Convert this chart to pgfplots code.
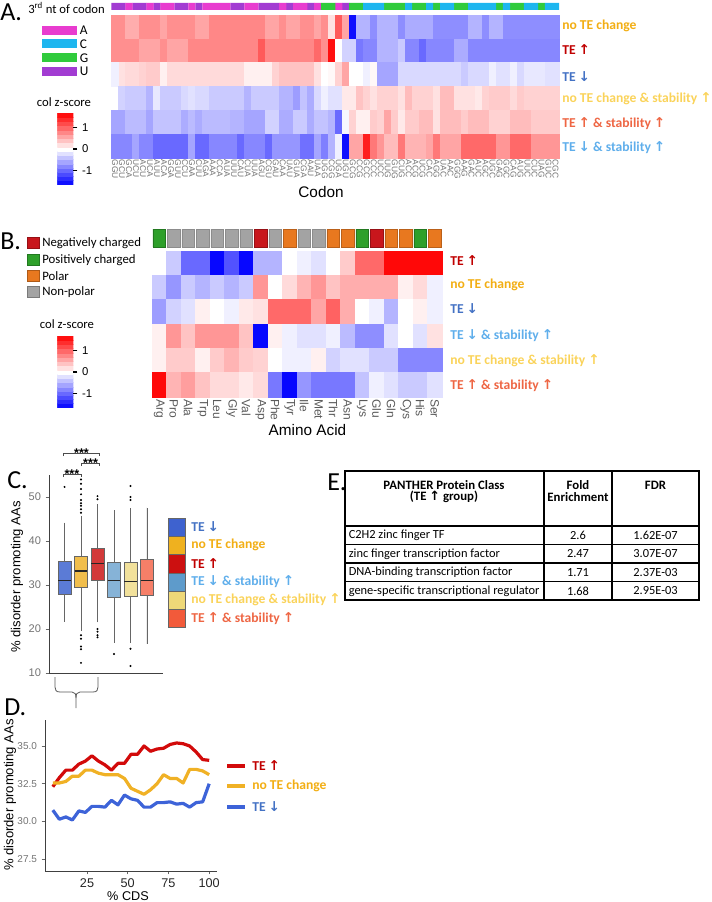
\documentclass[border=0pt]{standalone}
\usepackage{fontspec}
\setmainfont{Carlito}
\newfontfamily\arialfont{Liberation Sans}
\newfontfamily\arrowfont{DejaVu Sans}
\usepackage{pgfplots}
\pgfplotsset{compat=1.18}
\usepgfplotslibrary{statistics}
\newcommand{\fs}[1]{\fontsize{#1}{#1}\selectfont}
\newcommand{\up}{{\arrowfont ↑}}
\newcommand{\dn}{{\arrowfont ↓}}
\definecolor{ntA}{HTML}{E83CCF}
\definecolor{ntC}{HTML}{1EB6EF}
\definecolor{ntG}{HTML}{30CB3C}
\definecolor{ntU}{HTML}{A23CD2}
\definecolor{aaNeg}{HTML}{C8161C}
\definecolor{aaPos}{HTML}{2EA02A}
\definecolor{aaPol}{HTML}{E8781F}
\definecolor{aaNon}{HTML}{A3A3A3}
\definecolor{cUp}{HTML}{C00000}
\definecolor{cNo}{HTML}{F2AE14}
\definecolor{cDown}{HTML}{4472C4}
\definecolor{cDownS}{HTML}{5FAEEB}
\definecolor{cNoS}{HTML}{FAD35A}
\definecolor{cUpS}{HTML}{EE6644}
\definecolor{sw1}{HTML}{3E62CF}\definecolor{bx1}{HTML}{5B7BD6}
\definecolor{sw2}{HTML}{EFB11F}\definecolor{bx2}{HTML}{F1BE4C}
\definecolor{sw3}{HTML}{CC1010}\definecolor{bx3}{HTML}{D23A3A}
\definecolor{sw4}{HTML}{5E9BCB}\definecolor{bx4}{HTML}{86B3D7}
\definecolor{sw5}{HTML}{EED878}\definecolor{bx5}{HTML}{F2E19B}
\definecolor{sw6}{HTML}{F25A3A}\definecolor{bx6}{HTML}{F67F68}
\definecolor{lnUp}{HTML}{D20A0A}
\definecolor{lnNo}{HTML}{F0B125}
\definecolor{lnDn}{HTML}{3D63D8}
\pgfplotsset{
  hm/.style={scale only axis, y dir=reverse, axis line style={draw=none}, ytick=\empty,
    major tick length=0pt, clip=false,
    colormap={bwr}{rgb255=(0,0,255) rgb255=(255,255,255) rgb255=(255,0,0)},
    point meta min=-1.7, point meta max=1.7,
    colorbar, colorbar sampled},
  cb/.style={anchor=north west, width=12pt, height=54pt, scale only axis, samples=18,
    ytick={-1,0,1}, yticklabels={-1,0,1}, yticklabel pos=right, ytick pos=right,
    yticklabel style={font=\arialfont\fs{8.5}, text=black},
    tick align=outside, major tick length=3pt, tick style={black, line width=0.8pt},
    axis line style={draw=none}, xtick=\empty},
  strip/.style={scale only axis, hide axis, ymin=0, ymax=1, clip=false},
}
\begin{document}
\begin{tikzpicture}
\begin{scope}[x=0.75pt,y=-0.75pt]
\useasboundingbox (0,0) rectangle (709,902);
\end{scope}

% ---------- Panel A strip ----------
\begin{axis}[strip, at={(83.625pt,-2.25pt)}, anchor=north west, width=335.6pt, height=5.25pt, xmin=-0.5, xmax=63.5]
\addplot[ybar, bar width=1.02, bar shift=0pt, fill=ntU, draw=none] coordinates {(0,1) (1,1) (3,1) (4,1) (6,1) (9,1) (10,1) (12,1) (17,1) (18,1) (21,1) (22,1) (23,1) (25,1) (28,1) (33,1)};
\addplot[ybar, bar width=1.02, bar shift=0pt, fill=ntA, draw=none] coordinates {(2,1) (5,1) (7,1) (8,1) (11,1) (13,1) (14,1) (15,1) (16,1) (19,1) (20,1) (24,1) (26,1) (27,1) (29,1) (32,1)};
\addplot[ybar, bar width=1.02, bar shift=0pt, fill=ntG, draw=none] coordinates {(30,1) (31,1) (34,1) (35,1) (39,1) (40,1) (41,1) (43,1) (44,1) (46,1) (49,1) (50,1) (55,1) (57,1) (58,1) (61,1)};
\addplot[ybar, bar width=1.02, bar shift=0pt, fill=ntC, draw=none] coordinates {(36,1) (37,1) (38,1) (42,1) (45,1) (47,1) (48,1) (51,1) (52,1) (53,1) (54,1) (56,1) (59,1) (60,1) (62,1) (63,1)};
\end{axis}

% ---------- Panel A heatmap ----------
\begin{axis}[hm, at={(83.625pt,-11.25pt)}, anchor=north west, width=335.6pt, height=107.25pt,
  xmin=-0.5, xmax=63.5, ymin=-0.5, ymax=5.5,
  xtick={0,...,63},
  xticklabels={GGU,GCU,GCA,UCU,ACU,UCA,AUU,ACA,GGA,GUU,CCU,GAA,CUU,AGA,AAA,CCA,AUA,UUU,CAU,CUA,UUA,AGU,CGU,GAU,CAA,UAU,GUA,CGA,AAU,UAA,UGG,CGG,UGA,UGU,GCG,CCG,GCC,CCC,UCC,UUG,GUG,CUG,ACC,ACG,UCG,CAC,AGG,UAC,AAC,GGG,AAG,GAC,AUC,AGC,UGC,GAG,GGC,CAG,AUG,UUC,CUC,UAG,GUC,CGC},
  xticklabel style={font=\arialfont\fs{6.3}, text=black!55, rotate=-90, anchor=west, inner sep=1pt},
  colorbar style={cb, at={(parent axis.north west)}, xshift=-49.1pt, yshift=-73.5pt}]
\addplot[scatter, only marks, mark=square*, mark size=2.622pt, mark options={yscale=3.409, line width=0.35pt},
  scatter/use mapped color={draw=mapped color, fill=mapped color}, point meta=explicit]
  table[header=false, row sep=\\, x expr={mod(\coordindex,64)}, y expr={floor(\coordindex/64)}, meta index=0] {
0.75\\0.75\\0.55\\0.55\\0.75\\0.75\\0.75\\0.6\\0.75\\0.75\\0.75\\0.75\\0.6\\0.6\\0.8\\0.8\\0.8\\0.8\\0.8\\0.8\\0.8\\0.8\\0.6\\0.6\\0.75\\0.6\\0.6\\0.75\\0.75\\0.6\\0.75\\0.2\\1.1\\0.6\\-1.6\\-0.5\\-0.5\\-0.75\\-0.5\\-0.5\\-0.5\\-0.75\\-0.55\\-0.55\\-0.55\\-0.55\\-0.75\\-0.75\\-0.75\\-0.75\\-0.75\\-0.5\\-0.5\\-0.75\\-0.5\\-0.5\\-0.75\\-0.75\\-0.75\\-0.75\\-0.75\\-0.75\\-0.75\\-0.75\\
0.75\\0.75\\0.75\\0.75\\0.6\\0.6\\0.6\\0.75\\0.6\\0.6\\0.6\\0.8\\0.8\\0.8\\0.8\\0.8\\0.8\\0.8\\0.8\\0.8\\0.8\\1.1\\0.8\\0.8\\0.8\\0.8\\0.8\\0.8\\0.8\\1.0\\0.75\\1.6\\0\\-0.3\\-0.3\\-0.9\\-0.8\\-0.8\\-0.5\\-0.5\\-0.5\\-0.35\\-0.8\\-0.8\\-1.0\\-0.8\\-0.8\\-0.8\\-0.8\\-0.55\\-0.55\\-0.8\\-0.8\\-0.8\\-0.8\\-0.8\\-0.8\\-0.8\\-0.8\\-0.8\\-0.8\\-0.8\\-0.8\\-0.8\\
0.2\\0.2\\0.25\\0.25\\0.3\\0.35\\0.35\\0.1\\0.25\\0.25\\0.25\\0.25\\0.25\\0.25\\0.25\\0.25\\0.25\\0.25\\0.25\\0.1\\0.1\\0.1\\0.1\\0.3\\0.4\\0.4\\0.4\\0.4\\0.4\\0.2\\0\\0.05\\0.3\\0.6\\0\\0\\-0.1\\0.05\\-0.6\\-0.6\\-0.6\\-0.25\\-0.25\\-0.25\\-0.25\\-0.25\\-0.25\\-0.25\\-0.25\\-0.25\\-0.35\\-0.25\\-0.25\\-0.25\\-0.1\\-0.2\\-0.2\\-0.1\\-0.25\\-0.15\\-0.15\\-0.15\\-0.2\\-0.2\\
-0.1\\-0.3\\-0.35\\-0.35\\-0.35\\-0.5\\-0.15\\-0.35\\-0.35\\-0.35\\-0.25\\-0.2\\-0.25\\-0.25\\-0.35\\-0.35\\-0.35\\-0.35\\-0.35\\-0.5\\-0.35\\-0.35\\-0.35\\-0.35\\-0.5\\-0.5\\-0.65\\-0.4\\-0.55\\-0.25\\-0.1\\-0.2\\-0.2\\0.15\\0.15\\0.4\\0.3\\0.2\\0.3\\0.3\\0.3\\0.2\\0.45\\0.3\\0.3\\0.3\\0.2\\0.45\\0.45\\0.2\\0.2\\0.2\\0.15\\0.3\\0.35\\0.35\\0.35\\0.25\\0.35\\0.3\\0.3\\0.3\\0.3\\0.3\\
-0.6\\-0.6\\-0.45\\-0.45\\-0.45\\-0.6\\-0.4\\-0.4\\-0.4\\-0.4\\-0.55\\-0.45\\-0.55\\-0.45\\-0.45\\-0.45\\-0.45\\-0.5\\-0.5\\-0.6\\-0.6\\-0.6\\-0.3\\-0.3\\-0.55\\-0.55\\-0.35\\-0.35\\-0.55\\-0.4\\-0.4\\-0.5\\-1.0\\-0.05\\0.3\\0.1\\0.1\\0.35\\0.3\\0.6\\0.35\\0.15\\0.35\\0.35\\0.45\\0.45\\0.2\\0.45\\0.45\\0.45\\0.35\\0.45\\0.45\\0.45\\0.3\\0.3\\0.3\\0.45\\0.45\\0.45\\0.35\\0.35\\0.35\\0.35\\
-0.8\\-0.8\\-0.8\\-0.6\\-0.8\\-0.8\\-1\\-1\\-1\\-1\\-1\\-0.6\\-1\\-1\\-0.8\\-0.8\\-0.8\\-0.8\\-1\\-0.8\\-0.8\\-0.8\\-1\\-0.7\\-0.7\\-0.7\\-0.7\\-0.95\\-0.95\\-0.6\\-0.85\\-0.5\\-0.1\\-1.6\\0.6\\0.6\\1.5\\0.9\\0.7\\0.45\\0.45\\0.9\\0.5\\0.5\\0.5\\0.6\\0.9\\0.6\\0.6\\0.6\\1\\1\\1\\1\\1\\0.7\\0.7\\1\\1\\1\\0.7\\0.7\\0.7\\0.7\\
};
\end{axis}

% ---------- Panel B strip ----------
\begin{axis}[strip, at={(114pt,-171.75pt)}, anchor=north west, width=217.5pt, height=13.5pt, xmin=-0.5, xmax=19.5]
\addplot[ybar, bar width=0.88, bar shift=0pt, fill=aaPos, draw=aaPos!75!black, line width=0.5pt] coordinates {(0,1) (14,1) (18,1)};
\addplot[ybar, bar width=0.88, bar shift=0pt, fill=aaNeg, draw=aaNeg!75!black, line width=0.5pt] coordinates {(7,1) (15,1)};
\addplot[ybar, bar width=0.88, bar shift=0pt, fill=aaPol, draw=aaPol!80!black, line width=0.5pt] coordinates {(9,1) (12,1) (13,1) (16,1) (17,1) (19,1)};
\addplot[ybar, bar width=0.88, bar shift=0pt, fill=aaNon, draw=black!45, line width=0.5pt] coordinates {(1,1) (2,1) (3,1) (4,1) (5,1) (6,1) (8,1) (10,1) (11,1)};
\end{axis}

% ---------- Panel B heatmap ----------
\begin{axis}[hm, at={(114pt,-188.25pt)}, anchor=north west, width=217.5pt, height=109.5pt,
  xmin=-0.5, xmax=19.5, ymin=-0.5, ymax=5.5,
  xtick={0,...,19},
  xticklabels={Arg,Pro,Ala,Trp,Leu,Gly,Val,Asp,Phe,Tyr,Ile,Met,Thr,Asn,Lys,Glu,Gln,Cys,His,Ser},
  xticklabel style={font=\arialfont\fs{9}, text=black!65, rotate=-90, anchor=west, inner sep=1.5pt},
  colorbar style={cb, at={(parent axis.north west)}, xshift=-79.5pt, yshift=-63.75pt}]
\addplot[scatter, only marks, mark=square*, mark size=5.4375pt, mark options={yscale=1.6782, line width=0.35pt},
  scatter/use mapped color={draw=mapped color, fill=mapped color}, point meta=explicit]
  table[header=false, row sep=\\, x expr={mod(\coordindex,20)}, y expr={floor(\coordindex/20)}, meta index=0] {
0\\-0.35\\-1.0\\-1.0\\-1.65\\-1.15\\-1.65\\-0.5\\-0.5\\0\\-0.1\\-0.2\\0\\0.35\\1.0\\1.0\\1.65\\1.65\\1.65\\1.65\\
-0.35\\-0.7\\-0.35\\-0.5\\-0.35\\-0.5\\-0.35\\0.7\\0\\0.25\\0.5\\0.7\\0.4\\0.55\\0.55\\0.55\\0.55\\0.1\\0.25\\-0.1\\
-0.65\\-0.3\\-0.2\\0.1\\0\\-0.1\\0.15\\0.2\\1.0\\1.0\\1.0\\0.6\\1.05\\0.55\\0\\-0.1\\-0.5\\0\\0.1\\-0.1\\
0.1\\0.7\\0.4\\0.7\\0.7\\0.7\\0.4\\-1.65\\0.1\\-0.1\\-0.2\\-0.2\\-0.1\\-0.45\\-0.75\\-0.75\\-0.2\\0\\-0.2\\0.2\\
0.1\\0.35\\0.35\\0.1\\0.35\\0.5\\0.35\\0.3\\0\\-0.1\\-0.1\\0.1\\-0.3\\-0.2\\-0.2\\-0.35\\-0.35\\-0.8\\-0.8\\-0.8\\
1.65\\0.5\\0.65\\0.4\\0.25\\0.25\\0.15\\0.25\\-0.9\\-1.65\\-0.7\\-0.9\\-0.9\\-0.9\\-0.4\\-0.1\\-0.2\\-0.35\\-0.35\\-0.2\\
};
\end{axis}

% ---------- Panel C boxplots ----------
\begin{axis}[at={(36.75pt,-356.25pt)}, anchor=north west, scale only axis, width=85.5pt, height=148.5pt,
  xmin=0.06, xmax=6.97, ymin=10, ymax=55, clip=false,
  axis x line*=bottom, axis y line*=left, axis line style={black!75, line width=0.6pt, -},
  xtick=\empty, ytick={10,20,30,40,50}, yticklabels={10,20,30,40,50},
  yticklabel style={font=\arialfont\fs{8.3}, text=black!55},
  tick align=outside, major tick length=2.5pt, tick style={black!60, line width=0.5pt},
  boxplot/draw direction=y, boxplot/box extend=0.78, boxplot/whisker extend=0,
  boxplot/every median/.style={black!85, line width=0.9pt},
  boxplot/every whisker/.style={black!60, line width=0.5pt},
  boxplot/every box/.style={draw=black!60, line width=0.5pt},
  outl/.style={mark=*, mark size=0.55pt, mark options={draw=none, fill=black!70}}]
\addplot[fill=bx1, outl, boxplot prepared={draw position=1, lower whisker=21.7, lower quartile=27.9, median=31.1, upper quartile=35.3, upper whisker=44.2}] table[header=false, row sep=\\, y index=0] {52.3\\};
\addplot[fill=bx2, outl, boxplot prepared={draw position=2, lower whisker=19.6, lower quartile=29.4, median=33.2, upper quartile=36.6, upper whisker=45.7}] table[header=false, row sep=\\, y index=0] {46.4\\47.2\\48.0\\48.6\\49.3\\50.6\\51.8\\53.0\\54.0\\18.6\\17.8\\16.0\\15.4\\12.3\\};
\addplot[fill=bx3, outl, boxplot prepared={draw position=3, lower whisker=21.5, lower quartile=31.0, median=34.8, upper quartile=38.3, upper whisker=48.4}] table[header=false, row sep=\\, y index=0] {49.5\\50.2\\20.0\\19.4\\18.6\\18.1\\};
\addplot[fill=bx4, outl, boxplot prepared={draw position=4, lower whisker=16.9, lower quartile=27.2, median=31.0, upper quartile=35.1, upper whisker=47.0}] table[header=false, row sep=\\, y index=0] {14.3\\};
\addplot[fill=bx5, outl, boxplot prepared={draw position=5, lower whisker=16.8, lower quartile=27.5, median=30.8, upper quartile=35.1, upper whisker=47.5}] table[header=false, row sep=\\, y index=0] {49.3\\50.0\\52.5\\15.5\\11.6\\};
\addplot[fill=bx6, outl, boxplot prepared={draw position=6, lower whisker=16.6, lower quartile=27.7, median=31.1, upper quartile=35.8, upper whisker=47.6}] coordinates {};
\draw[black!70, line width=0.5pt] (axis cs:0.9,59.3) -- (axis cs:0.9,60) -- (axis cs:3.1,60) -- (axis cs:3.1,59.3);
\draw[black!70, line width=0.5pt] (axis cs:2.0,57.0) -- (axis cs:2.0,57.7) -- (axis cs:3.1,57.7) -- (axis cs:3.1,57.0);
\draw[black!70, line width=0.5pt] (axis cs:0.9,54.5) -- (axis cs:0.9,55.2) -- (axis cs:2.0,55.2) -- (axis cs:2.0,54.5);
\node[anchor=base, inner sep=0, font=\arialfont\bfseries\fs{9.5}] at (axis cs:2.03,58.95) {***};
\node[anchor=base, inner sep=0, font=\arialfont\bfseries\fs{9.5}] at (axis cs:2.58,56.65) {***};
\node[anchor=base, inner sep=0, font=\arialfont\bfseries\fs{9.5}] at (axis cs:1.45,54.15) {***};
\end{axis}

% ---------- Panel D lines ----------
\begin{axis}[at={(33.75pt,-540pt)}, anchor=north west, scale only axis, width=129pt, height=113.25pt,
  xmin=-0.8, xmax=104.8, ymin=26.72, ymax=36.72,
  axis x line*=bottom, axis y line*=left, axis line style={black!75, line width=0.6pt, -},
  xtick={25,50,75,100}, xticklabels={25,50,75,100},
  ytick={27.5,30,32.5,35}, yticklabels={27.5,30.0,32.5,35.0},
  xticklabel style={font=\arialfont\fs{9.5}, text=black!85},
  yticklabel style={font=\arialfont\fs{7.5}, text=black!55},
  tick align=outside, major tick length=2.5pt, tick style={black!60, line width=0.5pt}]
\addplot[lnUp, line width=2.4pt, line join=round] coordinates {(4,32.3) (8,32.9) (12,33.4) (16,33.4) (20,33.8) (24,34.0) (28,34.35) (32,34.0) (36,33.75) (40,33.4) (44,33.85) (48,33.85) (52,34.45) (56,34.45) (60,35.0) (64,34.65) (68,34.8) (72,34.85) (76,35.1) (80,35.2) (84,35.15) (88,35.0) (92,34.6) (96,34.1) (100,34.05)};
\addplot[lnNo, line width=2.4pt, line join=round] coordinates {(4,32.55) (8,32.55) (12,32.65) (16,33.0) (20,33.0) (24,33.4) (28,33.4) (32,33.2) (36,33.1) (40,33.1) (44,33.1) (48,32.85) (52,32.2) (56,32.0) (60,31.8) (64,32.1) (68,32.5) (72,33.1) (76,32.85) (80,32.85) (84,32.55) (88,33.45) (92,33.45) (96,33.35) (100,33.1)};
\addplot[lnDn, line width=2.4pt, line join=round] coordinates {(4,30.75) (8,30.15) (12,30.3) (16,30.1) (20,30.7) (24,30.6) (28,31.0) (32,31.0) (36,30.95) (40,31.4) (44,31.1) (48,31.75) (52,31.5) (56,31.4) (60,30.95) (64,30.95) (68,31.25) (72,31.25) (76,31.3) (80,31.15) (84,31.2) (88,30.95) (92,31.25) (96,31.3) (100,32.5)};
\end{axis}

% ---------- annotations ----------
\begin{scope}[x=0.75pt,y=-0.75pt]
\foreach \t/\xx/\yy in {A./0/21, B./0/249, C./7/488, D./4/715, E./327/490}
  \node[anchor=base west, inner sep=0, font=\fs{19.5}] at (\xx,\yy) {\t};
% panel A legend
\node[anchor=base west, inner sep=0, font=\fs{9.5}] at (28,14) {3\textsuperscript{rd} nt of codon};
\foreach \yy/\cc/\ll in {30.5/ntA/A, 43.8/ntC/C, 58/ntG/G, 71.7/ntU/U} {
  \fill[\cc] (42,\yy-4.5) rectangle (77,\yy+4.5);
  \node[anchor=west, inner sep=0, font=\fs{10}] at (79.5,\yy) {\ll};
}
\node[anchor=base, inner sep=0, font=\fs{9.5}] at (64,107) {col z-score};
\node[anchor=base, inner sep=0, font=\arialfont\fs{11.5}] at (321,198) {Codon};
% row labels A
\begin{scope}[every node/.style={anchor=west, inner sep=0, font=\fs{10.2}\bfseries}]
\node[text=cNo] at (562,26) {no TE change};
\node[text=cUp] at (562,50) {TE \up};
\node[text=cDown] at (562,77) {TE \dn};
\node[text=cNoS] at (562,99) {no TE change \& stability \up};
\node[text=cUpS] at (562,124) {TE \up{} \& stability \up};
\node[text=cDownS] at (562,148) {TE \dn{} \& stability \up};
% row labels B
\node[text=cUp] at (450,261) {TE \up};
\node[text=cNo] at (450,285) {no TE change};
\node[text=cDown] at (450,309) {TE \dn};
\node[text=cDownS] at (450,336) {TE \dn{} \& stability \up};
\node[text=cNoS] at (450,361) {no TE change \& stability \up};
\node[text=cUpS] at (450,386) {TE \up{} \& stability \up};
% legend C
\node[text=cDown] at (191,527) {TE \dn};
\node[text=cNo] at (191,545) {no TE change};
\node[text=cUp] at (191,563.3) {TE \up};
\node[text=cDownS] at (191,581.7) {TE \dn{} \& stability \up};
\node[text=cNoS] at (191,600) {no TE change \& stability \up};
\node[text=cUpS] at (191,618.3) {TE \up{} \& stability \up};
% legend D
\node[text=cUp] at (252,766) {TE \up};
\node[text=cNo] at (252,786) {no TE change};
\node[text=cDown] at (252,807) {TE \dn};
\end{scope}
% panel B legend
\foreach \yy/\cc/\ll in {243/aaNeg/Negatively charged, 260/aaPos/Positively charged, 276/aaPol/Polar, 292/aaNon/Non-polar} {
  \filldraw[fill=\cc, draw=\cc!75!black, line width=0.5pt] (27.5,\yy-5.5) rectangle (39.5,\yy+5.5);
  \node[anchor=west, inner sep=0, font=\fs{9.6}] at (42,\yy) {\ll};
}
\node[anchor=base, inner sep=0, font=\fs{9.5}] at (67,328) {col z-score};
\node[anchor=base, inner sep=0, font=\arialfont\fs{11.5}] at (307.5,435) {Amino Acid};
% legend C swatches
\foreach \i/\cc in {0/sw1, 1/sw2, 2/sw3, 3/sw4, 4/sw5, 5/sw6}
  \filldraw[fill=\cc, draw=black!60, line width=0.6pt] (168,518+18.3*\i) rectangle (185,536.3+18.3*\i);
% brace
\draw[black!65, line width=0.6pt] (55,677) -- (55,687) .. controls (55,690) and (56,692) .. (60,692) -- (72,692) .. controls (75,692) and (76,694) .. (76,698) -- (76,708);
\draw[black!65, line width=0.6pt] (98,677) -- (98,687) .. controls (98,690) and (97,692) .. (93,692) -- (80,692) .. controls (77,692) and (76,694) .. (76,698);
% legend D lines
\draw[lnUp, line width=2.6pt] (227,766) -- (245,766);
\draw[lnNo, line width=2.6pt] (227,786) -- (245,786);
\draw[lnDn, line width=2.6pt] (227,807) -- (245,807);
% axis titles
\node[rotate=90, inner sep=0, font=\arialfont\fs{9.8}] at (17,577) {\% disorder promoting AAs};
\node[rotate=90, inner sep=0, font=\arialfont\fs{9.8}] at (10,795) {\% disorder promoting AAs};
\node[anchor=base, inner sep=0, font=\arialfont\fs{9.5}] at (128,900) {\% CDS};
% table E
\draw[black, line width=0.8pt] (345,471) rectangle (699,600);
\draw[black, line width=0.8pt] (544,471) -- (544,600) (612,471) -- (612,600);
\draw[black, line width=0.8pt] (345,526) -- (699,526) (345,544.5) -- (699,544.5) (345,563) -- (699,563) (345,581.5) -- (699,581.5);
\begin{scope}[every node/.style={inner sep=0, font=\fs{9.6}\bfseries}]
\node at (444,485) {PANTHER Protein Class};
\node at (444,497) {(TE \up{} group)};
\node at (578,485) {Fold};
\node at (578,497) {Enrichment};
\node at (655.5,485) {FDR};
\end{scope}
\begin{scope}[every node/.style={inner sep=0, font=\fs{9.3}}]
\node[anchor=west] at (348.5,535.5) {C2H2 zinc finger TF};
\node[anchor=west] at (348.5,554) {zinc finger transcription factor};
\node[anchor=west] at (348.5,572.5) {DNA-binding transcription factor};
\node[anchor=west] at (348.5,591) {gene-specific transcriptional regulator};
\node at (578,535.5) {2.6};
\node at (578,554) {2.47};
\node at (578,572.5) {1.71};
\node at (578,591) {1.68};
\node at (655.5,535.5) {1.62E-07};
\node at (655.5,554) {3.07E-07};
\node at (655.5,572.5) {2.37E-03};
\node at (655.5,591) {2.95E-03};
\end{scope}
\end{scope}
\end{tikzpicture}
\end{document}
